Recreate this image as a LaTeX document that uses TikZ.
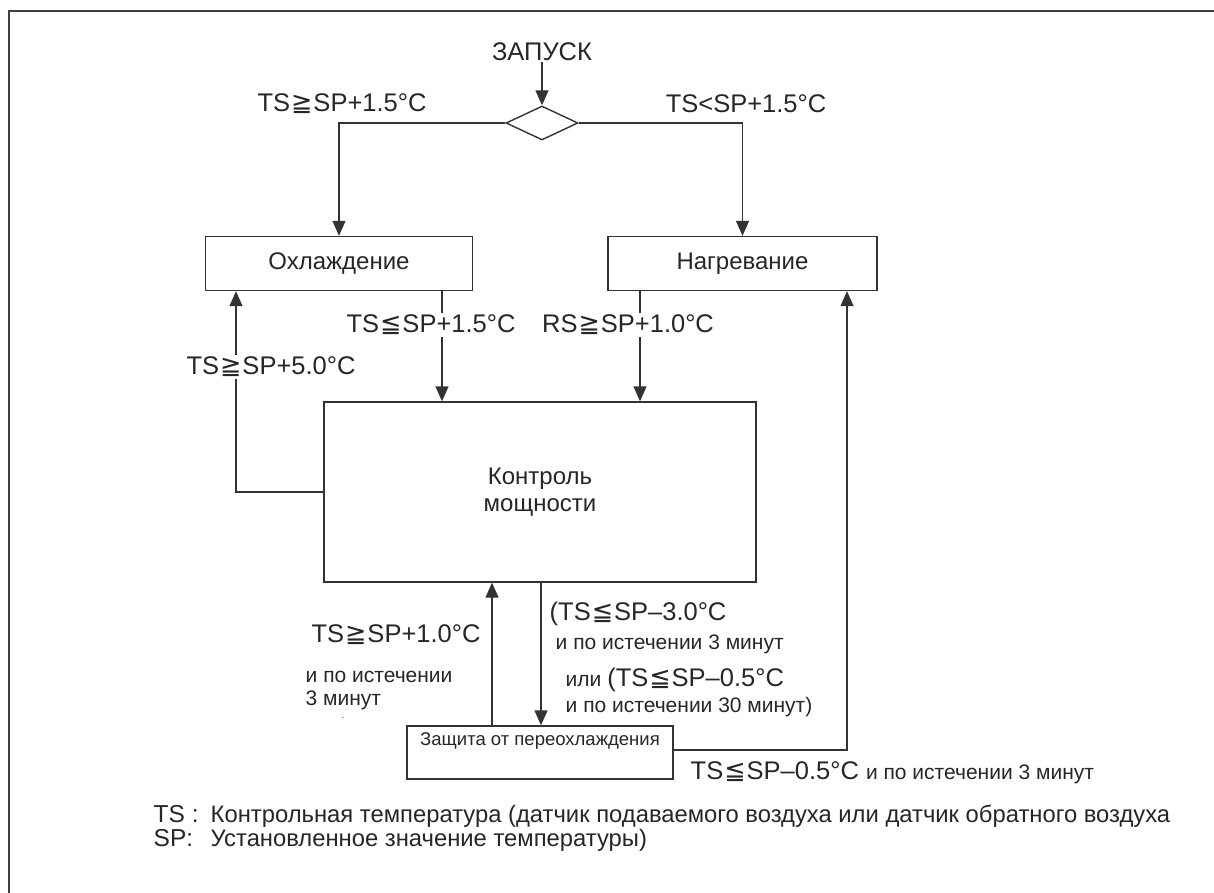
\documentclass[tikz,border=0pt]{standalone}
\usepackage{fontspec}
\setmainfont{Liberation Sans}
\newfontfamily\symf{DejaVu Sans}
\usetikzlibrary{arrows.meta,shapes.geometric}
\newcommand\mygeq{{\symf\kern1pt≧\kern1pt}}
\newcommand\myleq{{\symf\kern1pt≦\kern1pt}}
\newcommand\bigf{\fontsize{25.5}{29}\selectfont}
\newcommand\midf{\fontsize{21}{24}\selectfont}
\newcommand\legf{\fontsize{23.8}{26}\selectfont}
\newcommand\legk{\fontsize{24.5}{26}\selectfont}
\begin{document}
\begin{tikzpicture}[x=1pt,y=-1pt,
  line width=1.4pt,
  every node/.style={inner sep=0pt, text=black!85},
  frm/.style={draw=black!75, line width=2pt},
  ln/.style={draw=black!80, line width=1.4pt},
  arr/.style={ln, -{Triangle[length=15pt,width=13pt]}},
  boxn/.style={draw=black!80, line width=1.4pt, rectangle, fill=white},
  big/.style={font=\bigf},
  boxt/.style={font=\fontsize{24}{27}\selectfont},
  lbl/.style={big, fill=white, inner sep=2pt},
  sm/.style={font=\midf, anchor=west}
]
\useasboundingbox (0,0) rectangle (1214,893);
% frame
\draw[frm] (9,893) -- (9,11) -- (1214,11);

% nodes
\node[big] (start) at (542,52) {ЗАПУСК};
\node[draw=black!80, line width=1.4pt, diamond, minimum width=72pt, minimum height=34pt] (dia) at (542,123) {};
\node[boxn, boxt, minimum width=267pt, minimum height=54pt] (cool) at (339,263.5) {Охлаждение};
\node[boxn, boxt, minimum width=269pt, minimum height=54pt] (heat) at (742.5,263.5) {Нагревание};
\node[boxn, boxt, minimum width=432pt, minimum height=180pt, align=center] (ctrl) at (540,492) {Контроль\\мощности};
\node[boxn, minimum width=266pt, minimum height=53pt,
  label={[anchor=north, yshift=-7pt, font=\fontsize{18.5}{21}\selectfont]north:Защита от переохлаждения}] (prot) at (540,752.5) {};

\coordinate (xl) at (236,0);
\coordinate (xa) at (442,0);
\coordinate (xb) at (640,0);
\coordinate (xu) at (492,0);
\coordinate (xd) at (541,0);
\coordinate (xr) at (847,0);

% connectors
\draw[arr] (start.south) -- (dia.north);
\draw[arr] (dia.west) -| (cool.north);
\draw[arr] (dia.east) -| (heat.north);
\draw[arr] (cool.south -| xa) -- (ctrl.north -| xa);
\draw[arr] (heat.south -| xb) -- (ctrl.north -| xb);
\draw[arr] (ctrl.west) -| (cool.south -| xl);
\draw[arr] (prot.north -| xu) -- (ctrl.south -| xu);
\draw[arr] (ctrl.south -| xd) -- (prot.north -| xd);
\draw[arr] ([yshift=2.5pt]prot.east) -| (heat.south -| xr);

% labels
\node[big] (l1) at (342,104) {TS\mygeq SP+1.5°C};
\node[big] (l2) at (746,104) {TS<SP+1.5°C};
\node[lbl] (l3) at (431,325) {TS\myleq SP+1.5°C};
\node[lbl] (l4) at (628,325) {RS\mygeq SP+1.0°C};
\node[lbl] (l5) at (271,367) {TS\mygeq SP+5.0°C};
\node[big] (l6) at (396,635) {TS\mygeq SP+1.0°C};
\node[sm] (l7) at (305,677) {и по истечении};
\node[sm] (l8) at (305,700) {3 минут};
\node[font=\fontsize{10}{10}\selectfont] (dot) at (343,718) {.};
\node[big, anchor=west] (r1) at (549,614) {(TS\myleq SP–3.0°C};
\node[sm] (r2) at (555,644) {и по истечении 3 минут};
\node[anchor=west] (r3) at (565,680) {{\midf или }{\bigf(TS\myleq SP–0.5°C}};
\node[sm] (r4) at (565,707) {и по истечении 30 минут)};
\node[anchor=west] (b1) at (690,773) {{\bigf TS\myleq SP–0.5°C }{\midf и по истечении 3 минут}};
\node[anchor=base west, font=\legk] (g1a) at (153,822) {TS :};
\node[anchor=base west, font=\legf] (g1b) at (210,822) {Контрольная температура (датчик подаваемого воздуха или датчик обратного воздуха};
\node[anchor=base west, font=\legk] (g2a) at (153,846) {SP:};
\node[anchor=base west, font=\legf] (g2b) at (210,846) {Установленное значение температуры)};
\end{tikzpicture}
\end{document}
